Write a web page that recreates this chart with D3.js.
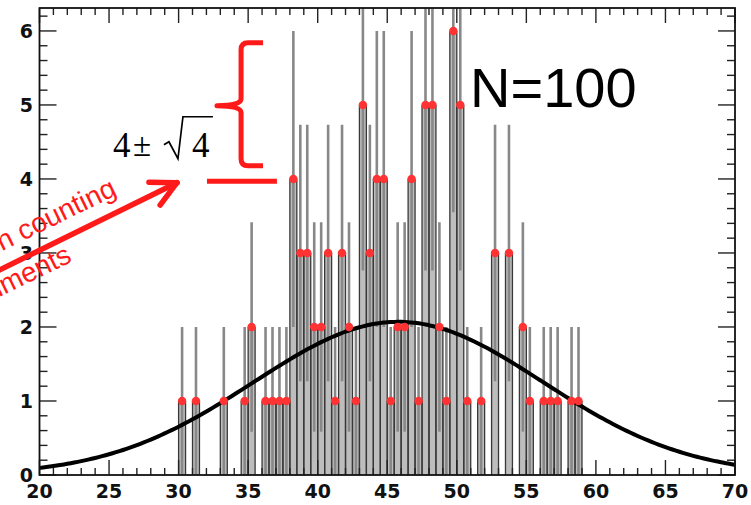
<!DOCTYPE html>
<html>
<head>
<meta charset="utf-8">
<script src="https://cdn.jsdelivr.net/npm/d3@7"></script>
<style>
  html, body { margin: 0; padding: 0; background: #fff; }
  svg { display: block; }
</style>
</head>
<body>
<svg id="chart" width="751" height="505"></svg>
<script>
// ---- data ----
const binWidth = 0.5;
const binCenters = [30.25, 31.25, 33.25, 34.75, 35.25, 36.25, 36.75, 37.25, 37.75, 38.25,
                    38.75, 39.25, 39.75, 40.25, 40.75, 41.25, 41.75, 42.25, 42.75, 43.25,
                    43.75, 44.25, 44.75, 45.25, 45.75, 46.25, 46.75, 47.25, 47.75, 48.25,
                    48.75, 49.25, 49.75, 50.25, 50.75, 51.75, 52.75, 53.75, 54.75, 55.25,
                    56.25, 56.75, 57.25, 58.25, 58.75];
const binCounts  = [1, 1, 1, 1, 2, 1, 1, 1, 1, 4,
                    3, 3, 2, 2, 3, 1, 3, 2, 1, 5,
                    3, 4, 4, 1, 2, 2, 4, 1, 5, 5,
                    2, 1, 6, 5, 1, 1, 3, 3, 2, 1,
                    1, 1, 1, 1, 1];
// fitted Gaussian (parameters)
const fitMean = 45.8, fitSigma = 10.4, fitAmp = 2.07;
const xTickLabels = [20, 25, 30, 35, 40, 45, 50, 55, 60, 65, 70];
const yTickLabels = [0, 1, 2, 3, 4, 5, 6];
const xDomain = [20, 70];
const yDomain = [0, 6.31];
const sampleLabel = "N=100";
const noteLines = ["Fluctuation in counting", "experiments"];

// ---- layout ----
const svg = d3.select("#chart");
const L = 39.5, R = 735, T = 8, B = 475;
const x = d3.scaleLinear().domain(xDomain).range([L, R]);
const y = d3.scaleLinear().domain(yDomain).range([B, T]);
const RED = "#ff1a1a";

svg.append("defs").append("clipPath").attr("id", "plotclip")
  .append("rect").attr("x", L).attr("y", T).attr("width", R - L).attr("height", B - T);

const bins = binCenters.map((c, i) => ({ c, n: binCounts[i] }));
const gPlot = svg.append("g").attr("clip-path", "url(#plotclip)");

// bin fill
gPlot.append("g").selectAll("rect").data(bins).join("rect")
  .attr("x", d => x(d.c - binWidth / 2))
  .attr("width", d => x(d.c + binWidth / 2) - x(d.c - binWidth / 2))
  .attr("y", d => y(d.n))
  .attr("height", d => y(0) - y(d.n))
  .attr("fill", "#bdbdbd");

// error bars n ± sqrt(n)
gPlot.append("g").selectAll("line").data(bins).join("line")
  .attr("x1", d => x(d.c)).attr("x2", d => x(d.c))
  .attr("y1", d => y(d.n - Math.sqrt(d.n)))
  .attr("y2", d => y(d.n + Math.sqrt(d.n)))
  .attr("stroke", "#888").attr("stroke-width", 2.6);

// bin edges (outline)
const edgeG = gPlot.append("g");
bins.forEach(d => {
  [d.c - binWidth / 2, d.c + binWidth / 2].forEach(e => {
    edgeG.append("line")
      .attr("x1", x(e)).attr("x2", x(e))
      .attr("y1", y(0)).attr("y2", y(d.n))
      .attr("stroke", "#383838").attr("stroke-width", 1.3);
  });
});

// Gaussian curve
const curveXs = d3.range(xDomain[0], xDomain[1] + 0.001, 0.25);
const line = d3.line().x(v => x(v)).y(v => y(fitAmp * Math.exp(-0.5 * Math.pow((v - fitMean) / fitSigma, 2))))
  .curve(d3.curveBasis);
gPlot.append("path").datum(curveXs).attr("d", line)
  .attr("fill", "none").attr("stroke", "#000").attr("stroke-width", 4);

// red markers
gPlot.append("g").selectAll("circle").data(bins).join("circle")
  .attr("cx", d => x(d.c)).attr("cy", d => y(d.n)).attr("r", 4.2)
  .attr("fill", "#ff3333");

// ---- axes / frame ----
const axG = svg.append("g").attr("stroke", "#222").attr("stroke-width", 1.4);
const xMinor = d3.range(xDomain[0], xDomain[1] + 0.001, 1);
const yMinor = d3.range(0, yDomain[1], 0.2);
xMinor.forEach(v => {
  const major = Math.round(v) % 5 === 0;
  const len = major ? 15 : 7;
  axG.append("line").attr("x1", x(v)).attr("x2", x(v)).attr("y1", B).attr("y2", B - len);
  axG.append("line").attr("x1", x(v)).attr("x2", x(v)).attr("y1", T).attr("y2", T + len);
});
yMinor.forEach(v => {
  const major = Math.abs(v - Math.round(v)) < 1e-6;
  const len = major ? 17 : 8;
  axG.append("line").attr("x1", L).attr("x2", L + len).attr("y1", y(v)).attr("y2", y(v));
  axG.append("line").attr("x1", R).attr("x2", R - len).attr("y1", y(v)).attr("y2", y(v));
});
svg.append("rect").attr("x", L).attr("y", T).attr("width", R - L).attr("height", B - T)
  .attr("fill", "none").attr("stroke", "#111").attr("stroke-width", 1.8);

const labelFont = "'DejaVu Sans', sans-serif";
svg.append("g").selectAll("text").data(xTickLabels).join("text")
  .attr("x", d => x(d)).attr("y", 498)
  .attr("text-anchor", "middle")
  .attr("font-family", labelFont).attr("font-weight", "bold").attr("font-size", 19)
  .attr("fill", "#111").text(d => d);
svg.append("g").selectAll("text").data(yTickLabels).join("text")
  .attr("x", 33).attr("y", d => y(d) + 7)
  .attr("text-anchor", "end")
  .attr("font-family", labelFont).attr("font-weight", "bold").attr("font-size", 19)
  .attr("fill", "#111").text(d => d);

// ---- annotations ----
svg.append("text").attr("x", x(50.95)).attr("y", y(4.97))
  .attr("font-family", "'Liberation Sans', Arial, sans-serif").attr("font-size", 56)
  .attr("fill", "#000").text(sampleLabel);

// 4 ± sqrt(4)
const serif = "'Liberation Serif', 'Times New Roman', serif";
const fx = x(25.28), fy = y(4.30);
const fg = svg.append("g").attr("transform", `translate(${fx},${fy})`);
fg.append("text").attr("x", 0).attr("y", 0)
  .attr("font-family", serif).attr("font-size", 35).text("4");
fg.append("text").attr("x", 20).attr("y", -1)
  .attr("font-family", serif).attr("font-size", 33).text("±");
fg.append("path").attr("d", "M51,-12 L56,-15 L65,2 L70,-40 L100,-40")
  .attr("fill", "none").attr("stroke", "#000").attr("stroke-width", 1.7).attr("stroke-linejoin", "miter");
fg.append("text").attr("x", 79).attr("y", 0)
  .attr("font-family", serif).attr("font-size", 35).text("4");

// red brace
const bv = x(34.49), btip = x(32.76), bend = x(36.07);
const bt = y(5.84), bm = y(4.99), bb = y(4.18);
const r = 7;
svg.append("path")
  .attr("d", `M${bend},${bt} L${bv + r},${bt} Q${bv},${bt} ${bv},${bt + r} L${bv},${bm - r}
              Q${bv},${bm} ${btip},${bm} Q${bv},${bm} ${bv},${bm + r}
              L${bv},${bb - r} Q${bv},${bb} ${bv + r},${bb} L${bend},${bb}`)
  .attr("fill", "none").attr("stroke", RED).attr("stroke-width", 5).attr("stroke-linejoin", "round");

// red underline
svg.append("line").attr("x1", x(32.04)).attr("x2", x(37.07)).attr("y1", y(3.97)).attr("y2", y(3.97))
  .attr("stroke", RED).attr("stroke-width", 5);

// red arrow
const ax1 = x(16.8), ay1 = y(2.74), ax2 = x(29.88), ay2 = y(3.95);
svg.append("line").attr("x1", ax1).attr("y1", ay1).attr("x2", ax2).attr("y2", ay2)
  .attr("stroke", RED).attr("stroke-width", 5.5).attr("stroke-linecap", "round");
const back = Math.atan2(ay1 - ay2, ax1 - ax2);
[-0.47, 0.47].forEach(da => {
  svg.append("line").attr("x1", ax2).attr("y1", ay2)
    .attr("x2", ax2 + 28 * Math.cos(back + da)).attr("y2", ay2 + 28 * Math.sin(back + da))
    .attr("stroke", RED).attr("stroke-width", 5.5).attr("stroke-linecap", "round");
});

// red rotated note (cut off at the left edge, as in the reference)
const notePos = [[25.64, 3.79], [22.41, 2.89]];
noteLines.forEach((t, i) => {
  const px = x(notePos[i][0]), py = y(notePos[i][1]);
  svg.append("text").attr("transform", `translate(${px},${py}) rotate(-26)`)
    .attr("text-anchor", "end")
    .attr("font-family", "'Liberation Sans', Arial, sans-serif").attr("font-size", 28)
    .attr("fill", RED).text(t);
});
</script>
</body>
</html>
